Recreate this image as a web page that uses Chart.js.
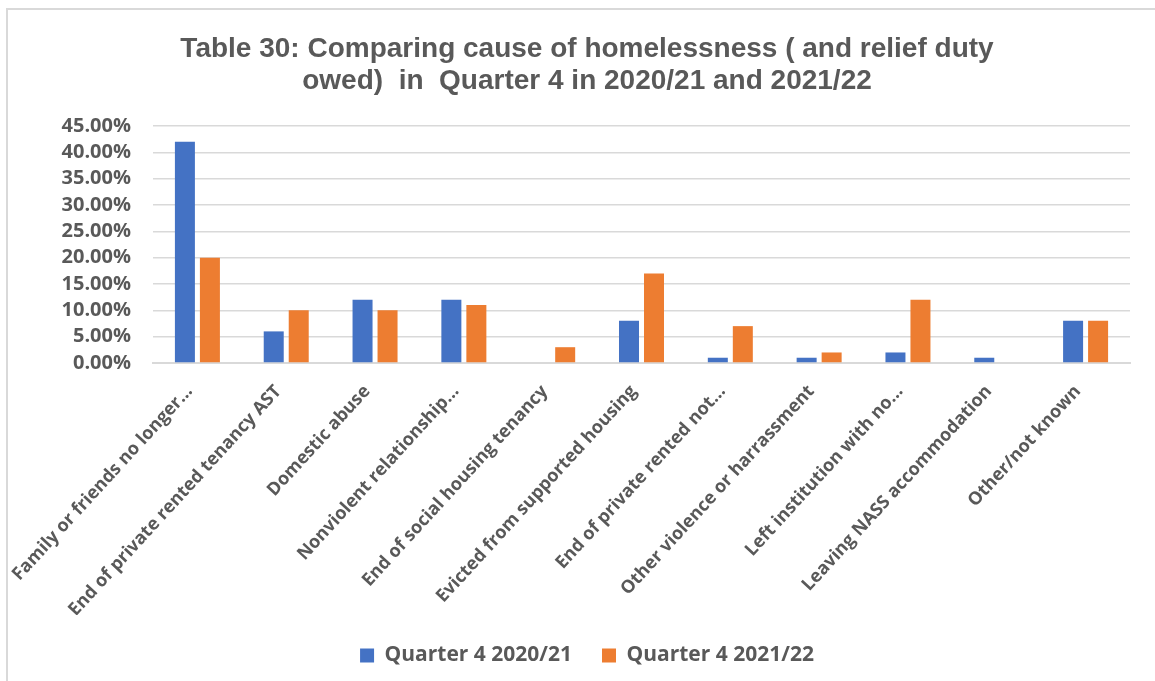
<!DOCTYPE html>
<html>
<head>
<meta charset="utf-8">
<script src="https://cdn.jsdelivr.net/npm/chart.js@4/dist/chart.umd.min.js"></script>
<style>
  html, body { margin: 0; padding: 0; background: #ffffff; }
  #wrap { position: relative; width: 1155px; height: 681px; overflow: hidden; background: #fff; }
  #frame { position: absolute; left: 6px; top: 8px; width: 1300px; height: 800px;
           border-top: 2px solid #d9d9d9; border-left: 2px solid #d9d9d9; box-sizing: border-box; }
  #c { position: absolute; left: 0; top: 0; }
</style>
</head>
<body>
<div id="wrap">
  <div id="frame"></div>
  <canvas id="c" width="1155" height="681"></canvas>
</div>
<script>
const titleLines = [
  "Table 30: Comparing cause of homelessness ( and relief duty",
  "owed)  in  Quarter 4 in 2020/21 and 2021/22"
];
const categories = [
  "Family or friends no longer…",
  "End of private rented tenancy AST",
  "Domestic abuse",
  "Nonviolent relationship…",
  "End of social housing tenancy",
  "Evicted from supported housing",
  "End of private rented not…",
  "Other violence or harrassment",
  "Left institution with no…",
  "Leaving NASS accommodation",
  "Other/not known"
];
const seriesNames = ["Quarter 4 2020/21", "Quarter 4 2021/22"];
const q4_2020_21 = [42, 6, 12, 12, 0, 8, 1, 1, 2, 1, 8];
const q4_2021_22 = [20, 10, 10, 11, 3, 17, 7, 2, 12, 0, 8];
const yTicks = [0, 5, 10, 15, 20, 25, 30, 35, 40, 45];

const TEXT = '#595959';
const GRID = '#d9d9d9';

const shiftBlocks = {
  id: 'shiftBlocks',
  afterLayout(chart) {
    const t = chart.titleBlock;
    if (t) { t.left = 44; t.right = 1130; }
    const l = chart.legend;
    if (l) { l.left = 44; l.right = 1130; }
  }
};

new Chart(document.getElementById('c'), {
  type: 'bar',
  data: {
    labels: categories,
    datasets: [
      { label: seriesNames[0], data: q4_2020_21, backgroundColor: '#4472C4', borderWidth: 0 },
      { label: seriesNames[1], data: q4_2021_22, backgroundColor: '#ED7D31', borderWidth: 0 }
    ]
  },
  plugins: [shiftBlocks],
  options: {
    responsive: false,
    animation: false,
    devicePixelRatio: 1,
    categoryPercentage: 0.563,
    barPercentage: 0.8,
    layout: { padding: { left: 0, right: 25, top: 0, bottom: 5 } },
    plugins: {
      tooltip: { enabled: false },
      title: {
        display: true,
        text: titleLines,
        color: TEXT,
        font: { family: 'Liberation Sans', size: 28, weight: 'bold', lineHeight: 1.15 },
        padding: { top: 33, bottom: 28.6 }
      },
      legend: {
        display: true,
        position: 'bottom',
        labels: {
          color: TEXT,
          boxWidth: 14,
          boxHeight: 14,
          padding: 30,
          font: { family: 'Open Sans', size: 21, weight: 'bold' }
        }
      }
    },
    scales: {
      x: {
        grid: { display: false, drawTicks: false },
        border: { display: true, color: GRID, width: 2 },
        ticks: {
          color: TEXT,
          autoSkip: false,
          maxRotation: 47.5,
          minRotation: 47.5,
          padding: 18,
          labelOffset: -8,
          font: { family: 'Open Sans', size: 18, weight: 'bold' }
        },
        afterFit: (s) => { s.height = 252; s.paddingLeft = 0; s.paddingRight = 0; }
      },
      y: {
        min: 0,
        max: 45,
        afterBuildTicks: (s) => { s.ticks = yTicks.map(v => ({ value: v })); },
        grid: { color: GRID, lineWidth: 1.5, drawTicks: false },
        border: { display: false },
        ticks: {
          color: TEXT,
          autoSkip: false,
          padding: 22,
          font: { family: 'Open Sans', size: 20, weight: 'bold' },
          callback: (v) => Number(v).toFixed(2) + '%'
        },
        afterFit: (s) => { s.width = 153; }
      }
    }
  }
});
</script>
</body>
</html>
